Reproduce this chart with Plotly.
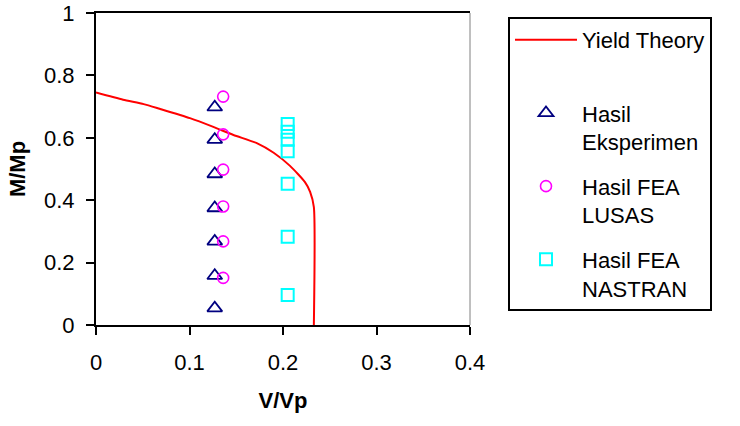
import plotly.graph_objects as go

# Yield theory curve
yield_v = [0.0, 0.029, 0.051, 0.068, 0.1005, 0.1255, 0.147, 0.172, 0.190, 0.2075, 0.2235, 0.229, 0.233, 0.233]
yield_m = [0.745, 0.722, 0.708, 0.693, 0.663, 0.635, 0.609, 0.583, 0.552, 0.51, 0.458, 0.427, 0.378, 0.0]

# Hasil Eksperimen
eks_v = [0.127, 0.127, 0.127, 0.127, 0.127, 0.127, 0.127]
eks_m = [0.698, 0.594, 0.484, 0.375, 0.268, 0.158, 0.054]

# Hasil FEA LUSAS
lusas_v = [0.136, 0.136, 0.136, 0.136, 0.136, 0.136]
lusas_m = [0.732, 0.611, 0.498, 0.380, 0.268, 0.151]

# Hasil FEA NASTRAN
nastran_v = [0.205, 0.205, 0.205, 0.205, 0.205, 0.205, 0.205]
nastran_m = [0.644, 0.619, 0.594, 0.557, 0.453, 0.283, 0.096]

x_ticks = [0, 0.1, 0.2, 0.3, 0.4]
x_tick_labels = ["0", "0.1", "0.2", "0.3", "0.4"]
y_ticks = [0, 0.2, 0.4, 0.6, 0.8, 1]
y_tick_labels = ["0", "0.2", "0.4", "0.6", "0.8", "1"]

FONT = "Arial, 'Liberation Sans', sans-serif"
FS = 22

fig = go.Figure()
fig.add_trace(go.Scatter(x=yield_v, y=yield_m, mode="lines", name="Yield Theory<br> ",
                         line=dict(color="#FF0000", width=2, shape="spline", smoothing=0.6),
                         legendgroup="a"))
fig.add_trace(go.Scatter(x=eks_v, y=eks_m, mode="markers", name="Hasil<br>Eksperimen",
                         marker=dict(symbol="triangle-up-open", size=13, color="#000080",
                                     line=dict(width=1.8, color="#000080")), legendgroup="b"))
fig.add_trace(go.Scatter(x=lusas_v, y=lusas_m, mode="markers", name="Hasil FEA<br>LUSAS",
                         marker=dict(symbol="circle-open", size=11, color="#FF00FF",
                                     line=dict(width=1.6, color="#FF00FF")), legendgroup="c"))
fig.add_trace(go.Scatter(x=nastran_v, y=nastran_m, mode="markers", name="Hasil FEA<br>NASTRAN",
                         marker=dict(symbol="square-open", size=12, color="#00FFFF",
                                     line=dict(width=2, color="#00FFFF")), legendgroup="d"))

fig.update_layout(
    width=740, height=426,
    margin=dict(l=96, r=270, t=13, b=101, autoexpand=False),
    paper_bgcolor="white", plot_bgcolor="white",
    font=dict(family=FONT, size=FS, color="black"),
    showlegend=True,
    legend=dict(
        x=1.1016, y=0.9874, xanchor="left", yanchor="top",
        bordercolor="black", borderwidth=2, bgcolor="white",
        font=dict(family=FONT, size=FS, color="black"),
        valign="top", tracegroupgap=13, traceorder="grouped",
        itemwidth=62,
    ),
)
fig.update_xaxes(
    range=[0, 0.4], tickvals=x_ticks, ticktext=x_tick_labels,
    showgrid=False, zeroline=False, automargin=False,
    showline=True, linecolor="black", linewidth=2, mirror=True,
    ticks="outside", ticklen=8, tickwidth=1.5, tickcolor="black",
    ticklabelstandoff=9,
    title=dict(text="<b>V/Vp</b>", font=dict(family=FONT, size=FS), standoff=18),
)
fig.update_yaxes(
    range=[0, 1], tickvals=y_ticks, ticktext=y_tick_labels,
    showgrid=False, zeroline=False, automargin=False,
    showline=True, linecolor="black", linewidth=2,
    ticks="outside", ticklen=8, tickwidth=1.5, tickcolor="black",
    ticklabelstandoff=7, ticklabeloverflow="allow",
    title=dict(text="<b>M/Mp</b>", font=dict(family=FONT, size=FS), standoff=12),
)
fig.add_shape(type="line", xref="x domain", yref="y domain", x0=1, x1=1, y0=0, y1=1,
              line=dict(color="#808080", width=1))

fig.write_html("out.html")
